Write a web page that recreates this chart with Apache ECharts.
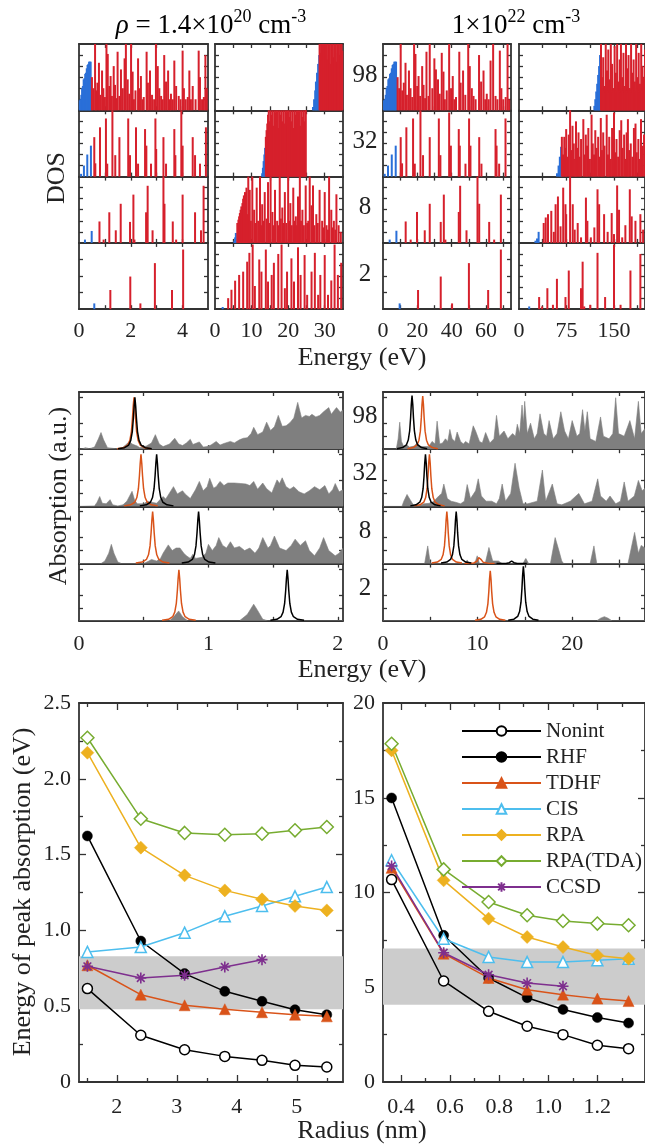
<!DOCTYPE html>
<html>
<head>
<meta charset="utf-8">
<script src="https://cdn.jsdelivr.net/npm/echarts@6.0.0/dist/echarts.min.js"></script>
<style>
html, body { margin: 0; padding: 0; background: #fff; }
#chart { width: 645px; height: 1146px; }
</style>
</head>
<body>
<div id="chart"></div>
<script>
// ---- DOS stems, [energy (eV), degeneracy] ----
// column A / B : rho = 1.4e20, column C / D : 1e22 ; rows 98, 32, 8, 2 electrons
var dosA98Blue = [[0.03,0.9],[0.06,1.0],[0.09,1.4],[0.12,2.0],[0.15,2.2],[0.18,2.8],[0.21,2.9],[0.24,3.3],[0.27,3.4],[0.3,3.8],[0.33,4.1],[0.36,4.2],[0.39,4.4],[0.42,4.4],[0.45,4.4]];
var dosA98Red = [[0.50,3.0],[0.55,2.0],[0.62,6.5],[0.66,1.8],[0.71,2.5],[0.77,4.3],[0.82,1.4],[0.89,3.6],[0.94,2.0],[1.0,1.2],[1.06,6.5],[1.11,5.1],[1.17,2.2],[1.22,3.1],[1.27,1.3],[1.34,4.0],[1.39,2.3],[1.44,1.1],[1.49,5.3],[1.56,1.3],[1.62,3.7],[1.69,2.0],[1.76,4.7],[1.81,6.5],[1.88,2.8],[1.94,1.5],[2.01,6.5],[2.07,3.5],[2.12,1.0],[2.18,1.8],[2.28,4.7],[2.33,2.0],[2.39,3.1],[2.45,1.0],[2.50,1.2],[2.61,5.3],[2.66,2.5],[2.74,3.6],[2.82,1.4],[2.90,1.0],[2.97,6.5],[3.04,4.0],[3.10,2.0],[3.17,1.3],[3.23,1.0],[3.29,5.0],[3.36,2.6],[3.44,3.6],[3.50,1.0],[3.55,1.5],[3.62,1.0],[3.68,4.5],[3.75,2.2],[3.85,1.3],[3.92,1.0],[4.00,5.4],[4.05,2.0],[4.12,1.0],[4.20,1.2],[4.26,3.6],[4.32,1.0],[4.39,2.2],[4.50,1.0],[4.62,5.4],[4.67,3.0],[4.75,1.0],[4.82,1.2],[4.88,5.0],[4.93,2.0]];
var dosA32Blue = [[0.08,0.25],[0.19,1.0],[0.32,2.0],[0.46,2.8]];
var dosA32Red = [[0.59,3.57],[0.63,1.2],[0.81,4.46],[1.04,5.26],[1.09,1.17],[1.29,6.5],[1.40,1.94],[1.56,3.57],[1.90,5.26],[1.97,1.94],[2.20,4.46],[2.28,1.17],[2.55,4.3],[2.60,2.8],[2.78,1.17],[2.95,5.26],[2.98,2.5],[3.26,3.57],[3.36,1.17],[3.68,4.3],[3.72,1.94],[3.95,6.5],[4.00,2.8],[4.39,3.57],[4.48,1.94],[4.67,1.17],[4.90,4.46]];
var dosA8Blue = [[0.23,0.3],[0.49,1.08]];
var dosA8Red = [[0.79,1.94],[0.95,0.3],[1.17,2.77],[1.42,1.14],[1.61,3.54],[1.97,1.9],[2.10,4.37],[2.14,0.3],[2.59,2.77],[2.65,5.17],[2.84,1.14],[3.26,6.5],[3.30,3.54],[3.62,1.94],[3.75,0.3],[4.00,4.37],[4.48,2.77],[4.71,1.14],[4.81,5.17]];
var dosA2Blue = [[0.59,0.35]];
var dosA2Red = [[1.21,1.16],[1.98,1.97],[2.37,0.35],[2.93,2.78],[3.59,1.16],[4.02,3.6]];

var dosB98Blue = [[26.8,0.3],[27.1,1.0],[27.4,1.8],[27.6,2.6],[27.9,3.4],[28.2,4.2],[28.5,5.0]];
var dosB98Red = [[28.6,6.5],[28.8,5.2],[29.0,6.5],[29.2,4.5],[29.4,6.5],[29.6,5.5],[29.8,6.5],[30.0,3.8],[30.2,6.5],[30.4,5.0],[30.6,6.5],[30.8,4.6],[31.0,6.5],[31.2,5.8],[31.4,6.5],[31.6,4.2],[31.8,6.5],[32.0,5.4],[32.2,6.5],[32.4,4.8],[32.6,6.5],[32.8,5.6],[33.0,6.5],[33.2,4.4],[33.4,6.5],[33.6,5.2],[33.8,6.5],[34.0,5.0],[34.2,6.5],[34.4,4.6],[34.6,6.5],[34.8,5.4]];
var dosB32Blue = [[12.9,0.3],[13.1,0.8],[13.3,1.4],[13.5,2.0],[13.7,2.6]];
var dosB32Red = [[13.9,3.6],[14.1,4.2],[14.3,4.8],[14.5,5.6],[14.7,6.5],[14.95,5.0],[15.2,6.5],[15.45,5.6],[15.7,6.5],[15.95,4.6],[16.2,6.5],[16.45,5.8],[16.7,6.5],[16.95,5.0],[17.2,6.5],[17.45,4.4],[17.7,6.5],[17.95,5.6],[18.2,6.5],[18.45,5.0],[18.7,6.5],[18.95,4.8],[19.2,6.5],[19.45,5.8],[19.7,6.5],[19.95,4.6],[20.2,6.5],[20.45,5.4],[20.7,6.5],[20.95,5.0],[21.2,6.5],[21.45,4.4],[21.7,6.5],[21.95,5.6],[22.2,6.5],[22.45,4.8],[22.7,6.5],[22.95,5.2],[23.2,6.5],[23.45,4.6],[23.7,6.5],[23.95,5.4],[24.2,6.5],[24.45,5.0],[24.7,6.5],[24.8,6.5]];
var dosB8Blue = [[5.3,0.2],[5.5,0.5],[5.7,0.9]];
var dosB8Red = [[6.1,1.8],[6.4,2.1],[6.6,2.4],[6.8,2.7],[7.0,3.0],[7.2,3.3],[7.5,3.6],[7.7,4.0],[7.9,4.3],[8.2,4.6],[8.4,3.0],[8.6,5.0],[8.8,2.6],[9.1,6.5],[9.5,4.8],[9.8,2.0],[10.2,6.5],[10.7,3.0],[11.0,1.8],[11.4,5.0],[11.8,2.0],[12.3,6.5],[12.6,1.6],[12.9,3.5],[13.3,2.0],[13.6,4.6],[14.1,2.2],[14.5,5.5],[14.9,1.8],[15.2,6.5],[15.7,2.8],[16.0,1.6],[16.4,4.8],[17.0,2.0],[17.3,1.6],[17.7,6.5],[18.0,2.2],[18.4,3.2],[18.8,1.8],[19.1,4.6],[19.5,1.8],[20.0,6.5],[20.3,2.0],[20.6,3.6],[21.0,1.6],[21.4,5.0],[21.8,2.0],[22.1,2.4],[22.4,1.6],[22.7,4.2],[23.2,6.5],[23.5,2.0],[23.9,3.0],[24.3,1.6],[24.8,5.2],[25.2,1.8],[25.5,2.0],[25.9,6.5],[26.4,3.4],[26.8,5.2],[27.2,1.6],[27.7,2.6],[28.1,1.8],[28.6,4.8],[29.3,2.0],[29.7,1.4],[30.0,4.6],[30.5,1.6],[30.9,1.2],[31.2,6.5],[31.8,3.0],[32.2,1.4],[32.5,2.0],[32.9,1.2],[33.2,4.4],[33.8,1.6],[34.4,1.0]];
var dosB2Blue = [[2.1,0.2]];
var dosB2Red = [[3.6,1.0],[4.5,1.76],[5.5,2.58],[6.6,3.1],[7.7,3.4],[8.8,4.3],[9.4,5.1],[10.3,5.85],[10.9,2.1],[12.1,4.5],[12.7,3.4],[13.9,5.4],[14.5,2.5],[15.5,3.1],[16.1,4.2],[17.3,5.0],[18.2,5.85],[19.1,1.9],[19.7,3.4],[20.9,4.6],[21.6,2.5],[22.7,5.6],[23.4,3.1],[24.5,4.9],[25.2,1.3],[26.4,3.4],[27.3,5.1],[28.2,1.3],[28.8,3.1],[30.0,4.9],[30.9,1.3],[31.8,2.6],[32.7,5.85],[33.6,3.1],[34.5,4.2]];

var dosC98Blue = [[0.6,0.9],[1.1,1.0],[1.6,1.4],[2.1,2.0],[2.6,2.2],[3.1,2.8],[3.6,2.9],[4.1,3.3],[4.6,3.4],[5.1,3.8],[5.6,4.1],[6.1,4.2],[6.6,4.4],[7.1,4.4],[7.6,4.4]];
var dosC98Red = [[8.5,3.0],[9.4,2.0],[10.3,6.5],[11.2,1.8],[12.1,2.5],[13.1,4.3],[13.9,1.4],[15.1,3.6],[16.0,2.0],[17.0,1.2],[18.1,6.5],[18.9,5.1],[19.9,2.2],[20.7,3.1],[21.6,1.3],[22.8,4.0],[23.6,2.3],[24.5,1.1],[25.3,5.3],[26.5,1.3],[27.2,6.5],[28.7,2.0],[29.9,4.7],[30.8,3.7],[32.0,2.8],[33.0,1.5],[34.2,5.2],[35.2,3.5],[36.0,1.0],[37.1,1.8],[38.5,6.5],[39.6,2.0],[40.6,3.1],[41.6,1.0],[42.5,1.2],[44.4,5.3],[45.2,2.5],[46.6,3.6],[47.9,1.4],[49.6,6.5],[50.5,4.0],[51.7,2.0],[52.7,1.3],[53.9,1.0],[55.9,5.0],[57.1,2.6],[58.5,3.6],[59.5,1.0],[60.4,1.5],[61.5,1.0],[62.6,4.5],[64.1,6.5],[65.5,1.3],[66.6,1.0],[68.0,5.4],[68.9,2.0],[70.0,1.0],[71.4,1.2],[72.5,6.5],[73.4,1.0]];
var dosC32Blue = [[1.0,0.25],[2.9,1.0],[5.1,2.0],[7.4,2.8]];
var dosC32Red = [[10.3,3.57],[11.1,1.2],[13.6,4.46],[17.5,5.26],[18.5,1.17],[21.8,6.5],[23.3,1.94],[27.2,3.57],[32.5,5.26],[33.4,1.94],[38.5,5.8],[39.5,2.8],[44.1,4.3],[44.7,2.8],[48.0,1.17],[50.1,5.26],[50.9,2.8],[56.0,3.57],[57.3,1.17],[65.5,4.3],[66.1,2.8],[67.6,1.17],[71.3,5.26]];
var dosC8Blue = [[3.9,0.3],[7.8,1.1]];
var dosC8Red = [[13.2,1.94],[16.1,0.3],[19.8,2.8],[24.3,1.14],[27.2,3.54],[33.6,1.9],[35.4,4.37],[36.3,0.3],[44.1,2.8],[44.9,5.17],[48.6,1.14],[55.0,6.5],[56.0,3.54],[61.8,1.9],[64.7,0.3],[68.6,4.37]];
var dosC2Blue = [[9.7,0.35]];
var dosC2Red = [[20.4,1.16],[33.6,1.97],[40.2,0.35],[50.0,2.78],[61.2,1.16],[68.6,3.6]];

var dosD98Blue = [[119,0.4],[120.5,1.0],[122,1.7],[123.5,2.4],[125,3.2],[126.5,4.0],[128,5.0]];
var dosD98Red = [[129.5,6.5],[131,3.0],[133,4.8],[135,2.2],[137,6.5],[139,3.6],[141,5.5],[143,2.8],[145,6.5],[147,4.2],[149,2.0],[151,5.8],[153,3.4],[155,6.5],[157,2.6],[159,4.6],[161,6.5],[163,3.0],[165,5.2],[167,2.2],[169,6.5],[171,3.8],[173,5.0],[175,2.0],[177,6.5],[179,3.4],[181,4.6],[183,2.6],[185,6.5],[187,3.0],[189,5.2],[191,2.4],[193,6.5],[195,4.0],[197,3.0],[199,5.5],[130,1.6],[132,2.0],[134,1.8],[136,1.6],[138,2.0],[140,1.8],[142,1.6],[144,2.0],[146,1.8],[148,1.6],[150,2.0],[152,1.8],[154,1.6],[156,2.0],[158,1.8],[160,1.6],[162,2.0],[164,1.8],[166,1.6],[168,2.0],[170,1.8],[172,1.6],[174,2.0],[176,1.8],[178,1.6],[180,2.0],[182,1.8],[184,1.6],[186,2.0],[188,1.8],[190,1.6],[192,2.0],[194,1.8],[196,1.6],[198,2.0]];
var dosD32Blue = [[60,0.3],[62.5,1.0],[64.5,1.8],[66.5,2.7]];
var dosD32Red = [[67.7,3.6],[69.5,2.0],[71.5,3.6],[73.5,2.6],[74.5,4.3],[76.5,1.8],[78.5,3.8],[80.7,6.5],[82.5,2.4],[84.5,4.6],[86.5,3.0],[88.5,1.6],[90,5.0],[92,2.6],[94,4.0],[96,1.8],[98,3.4],[101.6,5.2],[103.5,2.0],[105.5,3.8],[107.5,2.8],[109.5,4.4],[112,1.6],[114.6,5.6],[116.5,3.0],[118.5,2.0],[120.5,4.2],[122.5,2.6],[125,3.6],[127,1.8],[129.2,5.3],[131,2.4],[133,4.0],[135,2.8],[138.5,5.6],[140.5,2.0],[142.5,3.6],[145,1.6],[147,4.4],[150,5.8],[152,2.2],[154,3.4],[156.5,1.8],[159,4.2],[161.5,5.1],[163.5,2.6],[166,3.8],[168,1.6],[170,4.0],[172,5.2],[174,2.4],[176.5,3.0],[179,1.8],[181.5,4.4],[184,4.8],[186,2.2],[188.5,3.4],[190.5,1.6],[192.7,5.2],[195,2.8],[197.5,3.8]];
var dosD8Blue = [[26,0.2],[28.5,0.4],[31,1.0]];
var dosD8Red = [[39,1.8],[42.2,2.3],[45.8,2.6],[51,2.9],[55,1.0],[57.8,3.5],[61.5,4.2],[65.6,1.5],[69.8,5.0],[73.4,3.5],[74.5,2.6],[80.7,6.5],[84.9,3.5],[88,1.2],[92.7,1.8],[98,0.5],[105.7,4.1],[108,2.0],[113.5,0.5],[119,1.4],[124,4.85],[126.6,3.5],[134.4,2.6],[140,1.0],[146.4,2.7],[150,0.8],[155,5.2],[158,3.0],[163,0.5],[168,1.6],[175,4.85],[178,2.4],[183.9,2.0],[191.7,2.6],[196,1.2]];
var dosD2Blue = [[16.1,0.25]];
var dosD2Red = [[31.8,1.1],[36.5,0.25],[44.8,1.9],[53.6,0.4],[59.9,2.75],[73.4,1.1],[78.6,3.5],[97.9,1.9],[100.5,4.3],[103,0.25],[112.5,0.4],[124,5.1],[136,1.1],[150,5.85],[160.4,0.4],[176,3.5],[191.7,5.0]];

// ---- Absorption spectra (gray), [energy (eV), intensity] ----
var absL98 = [[0,0],[0.03,0.01],[0.05,0.03],[0.08,0.01],[0.12,0.04],[0.15,0.2],[0.17,0.32],[0.19,0.18],[0.22,0.03],[0.28,0.01],[0.33,0.02],[0.36,0.08],[0.39,0.15],[0.41,0.1],[0.45,0.06],[0.47,0.03],[0.52,0.06],[0.56,0.12],[0.59,0.28],[0.62,0.1],[0.65,0.05],[0.7,0.1],[0.74,0.21],[0.77,0.1],[0.8,0.07],[0.83,0.12],[0.86,0.19],[0.88,0.09],[0.91,0.12],[0.93,0.14],[0.96,0.04],[0.99,0.05],[1.02,0.08],[1.06,0.15],[1.09,0.08],[1.12,0.11],[1.17,0.15],[1.2,0.12],[1.24,0.18],[1.27,0.21],[1.3,0.22],[1.33,0.3],[1.35,0.42],[1.38,0.28],[1.42,0.33],[1.45,0.52],[1.48,0.36],[1.51,0.43],[1.54,0.65],[1.57,0.44],[1.6,0.45],[1.63,0.51],[1.66,0.6],[1.69,0.9],[1.72,0.6],[1.75,0.65],[1.78,0.63],[1.8,0.67],[1.83,0.62],[1.86,0.65],[1.89,0.72],[1.93,0.8],[1.95,0.67],[1.97,0.74],[1.99,0.8],[2.02,0.71],[2.04,0.76]];
var absL32 = [[0,0],[0.12,0.01],[0.14,0.08],[0.16,0.19],[0.18,0.06],[0.21,0.05],[0.24,0.13],[0.26,0.03],[0.3,0.01],[0.34,0.03],[0.37,0.1],[0.41,0.29],[0.43,0.12],[0.45,0.05],[0.5,0.05],[0.53,0.1],[0.56,0.08],[0.6,0.06],[0.63,0.14],[0.65,0.19],[0.67,0.14],[0.7,0.26],[0.73,0.38],[0.76,0.24],[0.8,0.3],[0.82,0.24],[0.86,0.15],[0.9,0.32],[0.93,0.48],[0.96,0.3],[0.99,0.38],[1.01,0.54],[1.04,0.35],[1.06,0.38],[1.09,0.48],[1.12,0.4],[1.15,0.45],[1.2,0.45],[1.25,0.44],[1.29,0.43],[1.32,0.4],[1.35,0.48],[1.38,0.33],[1.42,0.45],[1.45,0.34],[1.49,0.26],[1.53,0.51],[1.55,0.44],[1.57,0.55],[1.6,0.38],[1.63,0.33],[1.66,0.38],[1.7,0.28],[1.74,0.24],[1.78,0.3],[1.82,0.38],[1.86,0.32],[1.9,0.4],[1.93,0.24],[1.96,0.32],[1.98,0.44],[2.01,0.28],[2.04,0.32]];
var absL8 = [[0,0],[0.17,0],[0.2,0.05],[0.23,0.2],[0.25,0.37],[0.27,0.2],[0.3,0.03],[0.33,0],[0.5,0],[0.54,0.05],[0.56,0.08],[0.6,0.05],[0.63,0.1],[0.65,0.2],[0.69,0.36],[0.72,0.25],[0.75,0.3],[0.78,0.3],[0.81,0.2],[0.83,0.15],[0.86,0.1],[0.88,0.18],[0.9,0.1],[0.95,0.12],[0.98,0.2],[1.0,0.37],[1.03,0.25],[1.06,0.35],[1.08,0.5],[1.11,0.35],[1.14,0.3],[1.17,0.42],[1.2,0.3],[1.24,0.33],[1.28,0.25],[1.32,0.3],[1.36,0.2],[1.39,0.3],[1.42,0.5],[1.46,0.3],[1.48,0.35],[1.51,0.53],[1.55,0.3],[1.6,0.25],[1.64,0.35],[1.67,0.47],[1.71,0.35],[1.75,0.44],[1.78,0.25],[1.82,0.15],[1.86,0.3],[1.89,0.5],[1.93,0.25],[1.98,0.15],[2.01,0.2],[2.04,0.3]];
var absL2 = [[0,0],[0.7,0],[0.74,0.1],[0.77,0.19],[0.8,0.08],[0.84,0],[1.24,0],[1.3,0.12],[1.35,0.32],[1.38,0.2],[1.42,0.03],[1.46,0],[2.04,0]];
var absR98 = [[0,0],[1.4,0],[1.6,0.2],[1.77,0.52],[1.95,0.15],[2.19,0.05],[2.54,0.08],[2.8,0.04],[3.3,0.06],[3.6,0.12],[4.0,0.05],[4.84,0.05],[5.19,0.15],[5.5,0.1],[5.72,0.54],[6.0,0.1],[6.3,0.12],[6.6,0.2],[6.85,0.15],[7.07,0.38],[7.3,0.2],[7.6,0.15],[7.84,0.33],[8.2,0.15],[8.5,0.1],[8.73,0.15],[9.1,0.1],[9.54,0.45],[9.79,0.35],[10.2,0.15],[10.5,0.12],[10.85,0.32],[11.3,0.12],[11.73,0.2],[12.0,0.65],[12.3,0.25],[12.8,0.35],[13.2,0.2],[13.7,0.3],[14.0,0.25],[14.2,0.48],[14.45,0.3],[14.7,0.85],[14.85,0.5],[14.98,0.92],[15.25,0.3],[15.6,0.5],[16.0,0.2],[16.3,0.3],[16.6,0.68],[17.0,0.3],[17.3,0.25],[17.56,0.55],[18.0,0.2],[18.4,0.3],[18.8,0.72],[19.2,0.35],[19.6,0.2],[20.0,0.55],[20.5,0.25],[20.8,0.3],[21.1,0.76],[21.35,0.35],[21.6,0.72],[21.9,0.2],[22.5,0.15],[23.0,0.62],[23.3,0.25],[23.9,0.2],[24.3,0.3],[24.6,0.99],[24.9,0.3],[25.5,0.25],[26.1,0.55],[26.6,0.2],[27.0,0.92],[27.3,0.3],[27.7,0.4]];
var absR32 = [[0,0],[2.0,0],[2.2,0.1],[2.54,0.23],[2.9,0.12],[3.2,0.03],[3.9,0.02],[4.3,0.05],[5.0,0.06],[5.37,0.1],[5.9,0.2],[6.2,0.25],[6.43,0.43],[6.8,0.15],[7.2,0.1],[7.67,0.08],[8.2,0.05],[8.6,0.1],[8.9,0.42],[9.25,0.15],[9.79,0.3],[10.07,0.53],[10.4,0.2],[10.9,0.1],[11.5,0.1],[12.0,0.05],[12.3,0.15],[12.6,0.43],[12.95,0.1],[13.5,0.25],[13.96,0.83],[14.4,0.35],[14.8,0.05],[15.3,0.05],[16.3,0.1],[16.85,0.7],[17.2,0.1],[17.9,0.43],[18.4,0.05],[18.9,0.03],[19.8,0.1],[20.4,0.2],[20.7,0.25],[21.3,0.05],[22.1,0.1],[22.7,0.53],[23.0,0.2],[23.6,0.1],[24.0,0.2],[24.6,0.05],[25.1,0.1],[25.5,0.47],[25.9,0.1],[26.57,0.2],[27.0,0.5],[27.4,0.3],[27.7,0.35]];
var absR8 = [[0,0],[4.4,0],[4.73,0.34],[5.0,0],[8.7,0],[8.9,0.07],[9.1,0],[9.7,0],[9.96,0.15],[10.2,0],[10.8,0],[11.2,0.31],[11.6,0.05],[12.2,0.05],[12.6,0],[14.8,0],[15.1,0.1],[15.4,0],[17.7,0],[18.2,0.5],[18.6,0.25],[18.9,0.05],[19.1,0],[21.9,0],[22.3,0.34],[22.6,0],[25.9,0],[26.6,0.6],[27.0,0.2],[27.3,0.35],[27.7,0.3]];
var absR2 = [[0,0],[22.6,0],[23.0,0.05],[23.4,0.08],[23.8,0.05],[24.2,0],[27.7,0]];

// peak line shape (offset from centre in eV, relative height)
var peakOffsetL = [-0.13,-0.08,-0.048,-0.032,-0.02,-0.012,-0.006,0,0.006,0.012,0.02,0.032,0.048,0.08,0.13];
var peakOffsetR = [-1.6,-1.0,-0.6,-0.4,-0.25,-0.15,-0.08,0,0.08,0.15,0.25,0.4,0.6,1.0,1.6];
var peakShape = [0.01,0.03,0.08,0.17,0.34,0.59,0.83,1,0.83,0.59,0.34,0.17,0.08,0.03,0.01];
// rows 98, 32, 8, 2
var orangeCenterL = [0.425, 0.479, 0.569, 0.772];
var orangeHeightL = [1.0, 1.0, 1.0, 0.98];
var blackCenterL = [0.432, 0.600, 0.924, 1.609];
var blackHeightL = [1.0, 1.0, 1.0, 0.98];
var orangeCenterR = [4.20, 4.91, 6.75, 11.34];
var orangeHeightR = [1.02, 1.0, 1.0, 0.96];
var blackCenterR = [3.07, 4.49, 7.74, 14.84];
var blackHeightR = [1.03, 1.0, 1.0, 1.05];
var smallOrangeR = [[], [], [[10.2, 0.14]], []];
var smallBlackR = [[], [], [[13.6, 0.05]], []];

// ---- Peak absorption energy vs radius ----
var methodNames = ['Nonint', 'RHF', 'TDHF', 'CIS', 'RPA', 'RPA(TDA)', 'CCSD'];
var radiusL = [1.51, 2.40, 3.13, 3.80, 4.42, 4.97, 5.50];
var energyL = [
  [0.616, 0.308, 0.213, 0.169, 0.143, 0.110, 0.099],
  [1.623, 0.930, 0.715, 0.598, 0.532, 0.477, 0.444],
  [0.770, 0.576, 0.506, 0.480, 0.460, 0.444, 0.433],
  [0.858, 0.890, 0.985, 1.093, 1.161, 1.225, 1.286],
  [2.172, 1.546, 1.363, 1.264, 1.205, 1.161, 1.132],
  [2.271, 1.737, 1.643, 1.631, 1.638, 1.660, 1.682],
  [0.763, 0.686, 0.704, 0.759, 0.807]
];
var bandL = [0.48, 0.83];
var radiusR = [0.362, 0.574, 0.757, 0.914, 1.060, 1.200, 1.327];
var energyR = [
  [10.68, 5.33, 3.73, 2.94, 2.50, 1.94, 1.76],
  [14.99, 7.74, 5.49, 4.45, 3.83, 3.40, 3.11],
  [11.3, 6.77, 5.49, 4.87, 4.61, 4.40, 4.27],
  [11.7, 7.56, 6.60, 6.33, 6.33, 6.42, 6.51],
  [17.5, 10.64, 8.62, 7.65, 7.12, 6.68, 6.51],
  [17.85, 11.22, 9.50, 8.80, 8.50, 8.36, 8.27],
  [11.4, 6.82, 5.66, 5.22, 5.05]
];
var bandR = [4.08, 7.04];

var rowNames = ['98', '32', '8', '2'];

(function () {
  var SERIF = '"Liberation Serif", "Times New Roman", serif';
  var INK = '#222';
  var FRAME = '#333';
  var RED = '#d6202c';
  var BLUE = '#2a6fd8';
  var GRAY = '#7f7f7f';
  var ORANGE = '#d95319';
  var ASTERISK = 'path://M5 0L5 10M0 5L10 5M1.5 1.5L8.5 8.5M8.5 1.5L1.5 8.5';
  var methodStyle = [
    {color: '#000000', symbol: 'circle', open: true, size: 10},
    {color: '#000000', symbol: 'circle', open: false, size: 10},
    {color: '#d95319', symbol: 'triangle', open: false, size: 11},
    {color: '#4dbeee', symbol: 'triangle', open: true, size: 11},
    {color: '#edb120', symbol: 'diamond', open: false, size: 13},
    {color: '#77ac30', symbol: 'diamond', open: true, size: 13},
    {color: '#7e2f8e', symbol: ASTERISK, open: false, size: 11}
  ];

  var grids = [], xAxes = [], yAxes = [], series = [], graphics = [];

  function mkAxis(g, pos, range, ticks, len, labels, fmt, margin, line) {
    var a = {
      type: 'value', gridIndex: g, position: pos, min: range[0], max: range[1],
      axisLine: {show: line !== false, onZero: false, lineStyle: {color: FRAME, width: 1.8}},
      axisTick: {show: ticks.length > 0, inside: true, length: len, customValues: ticks,
        lineStyle: {color: FRAME, width: 1.3}},
      splitLine: {show: false},
      axisLabel: {show: false}
    };
    if (labels) {
      a.axisLabel = {show: true, customValues: labels, formatter: fmt, margin: margin,
        fontFamily: SERIF, fontSize: 22, color: INK, showMinLabel: true, showMaxLabel: true};
    }
    return a;
  }

  function addPanel(box, xr, yr, s) {
    var g = grids.length;
    grids.push({left: box[0], top: box[1], width: box[2], height: box[3]});
    var ax = {x: xAxes.length, y: yAxes.length};
    xAxes.push(mkAxis(g, 'bottom', xr, s.xt, s.len, s.xl, s.xf, s.xm));
    xAxes.push(mkAxis(g, 'top', xr, s.xt, s.len));
    yAxes.push(mkAxis(g, 'left', yr, s.yt, s.len, s.yl, s.yf, s.ym));
    yAxes.push(mkAxis(g, 'right', yr, s.yt, s.len));
    if (s.xtm) {
      xAxes.push(mkAxis(g, 'bottom', xr, s.xtm, s.lenm, null, null, 0, false));
      xAxes.push(mkAxis(g, 'top', xr, s.xtm, s.lenm, null, null, 0, false));
    }
    if (s.ytm) {
      yAxes.push(mkAxis(g, 'left', yr, s.ytm, s.lenm, null, null, 0, false));
      yAxes.push(mkAxis(g, 'right', yr, s.ytm, s.lenm, null, null, 0, false));
    }
    return ax;
  }

  function intLabel(v) { return String(v); }

  function label(str, x, y, size, vertical) {
    return {type: 'text', x: x, y: y, rotation: vertical ? Math.PI / 2 : 0, silent: true,
      style: {text: str, fontFamily: SERIF, fontSize: size, fill: INK,
        textAlign: 'center', textVerticalAlign: 'middle'}};
  }

  // ---- DOS block ----
  var dosCols = [
    {x: 79, w: 129, max: 4.98, ticks: [1, 2, 3, 4], labels: [0, 2, 4]},
    {x: 215, w: 128, max: 35, ticks: [5, 10, 15, 20, 25, 30], labels: [0, 10, 20, 30]},
    {x: 383, w: 128, max: 74.5, ticks: [10, 20, 30, 40, 50, 60, 70], labels: [0, 20, 40, 60]},
    {x: 519, w: 128, max: 199, ticks: [37.5, 75, 112.5, 150, 187.5], labels: [0, 75, 150]}
  ];
  var dosTop = 44, dosRowH = 66.3;
  var dosPanels = [
    [[dosA98Blue, dosA98Red], [dosB98Blue, dosB98Red], [dosC98Blue, dosC98Red], [dosD98Blue, dosD98Red]],
    [[dosA32Blue, dosA32Red], [dosB32Blue, dosB32Red], [dosC32Blue, dosC32Red], [dosD32Blue, dosD32Red]],
    [[dosA8Blue, dosA8Red], [dosB8Blue, dosB8Red], [dosC8Blue, dosC8Red], [dosD8Blue, dosD8Red]],
    [[dosA2Blue, dosA2Red], [dosB2Blue, dosB2Red], [dosC2Blue, dosC2Red], [dosD2Blue, dosD2Red]]
  ];
  dosPanels.forEach(function (row, r) {
    row.forEach(function (pair, c) {
      var col = dosCols[c];
      var ymax = (r === 3 && (c === 0 || c === 2)) ? 4 : 6;
      var yt = ymax === 4 ? [1, 2, 3] : [1, 2, 3, 4, 5];
      var ax = addPanel([col.x, dosTop + r * dosRowH, col.w, dosRowH], [0, col.max], [0, ymax], {
        xt: col.ticks, xl: r === 3 ? col.labels : null, xf: intLabel, xm: 11,
        yt: yt, len: 4
      });
      var data = [];
      pair[0].forEach(function (p) { data.push({value: p, itemStyle: {color: BLUE}}); });
      pair[1].forEach(function (p) { data.push({value: p, itemStyle: {color: RED}}); });
      series.push({type: 'bar', xAxisIndex: ax.x, yAxisIndex: ax.y, data: data,
        barWidth: 2, clip: true, silent: true});
    });
  });
  graphics.push(label('DOS', 57, 178, 26, true));
  graphics.push(label('Energy (eV)', 362, 358, 26));
  rowNames.forEach(function (n, r) {
    graphics.push(label(n, 365, dosTop + r * dosRowH + dosRowH / 2 - 2, 25));
  });

  // ---- Absorption block ----
  var absTop = 392, absRowH = 57.2;
  var absL = [absL98, absL32, absL8, absL2];
  var absR = [absR98, absR32, absR8, absR2];
  function peak(center, height, offs) {
    return offs.map(function (o, i) { return [center + o, height * peakShape[i]]; });
  }
  function lineSeries(ax, data, color, width) {
    return {type: 'line', xAxisIndex: ax.x, yAxisIndex: ax.y, data: data, symbol: 'none',
      lineStyle: {color: color, width: width}, silent: true, clip: true};
  }
  for (var r = 0; r < 4; r++) {
    var rowTop = absTop + r * absRowH;
    var axL = addPanel([79, rowTop, 264, absRowH], [0, 2.04], [0, 1.1], {
      xt: [0.5, 1, 1.5, 2], xl: r === 3 ? [0, 1, 2] : null, xf: intLabel, xm: 12,
      yt: [0.25, 0.5, 1.0], len: 4
    });
    var axR = addPanel([383, rowTop, 264, absRowH], [0, 27.7], [0, 1.1], {
      xt: [5, 10, 15, 20, 25], xl: r === 3 ? [0, 10, 20] : null, xf: intLabel, xm: 12,
      yt: [0.25, 0.5, 1.0], len: 4
    });
    [[axL, absL[r]], [axR, absR[r]]].forEach(function (p) {
      var s = lineSeries(p[0], p[1], GRAY, 0.6);
      s.areaStyle = {color: GRAY, opacity: 1};
      series.push(s);
    });
    series.push(lineSeries(axL, peak(orangeCenterL[r], orangeHeightL[r], peakOffsetL), ORANGE, 1.5));
    series.push(lineSeries(axL, peak(blackCenterL[r], blackHeightL[r], peakOffsetL), '#000', 1.5));
    series.push(lineSeries(axR, peak(orangeCenterR[r], orangeHeightR[r], peakOffsetR), ORANGE, 1.5));
    smallOrangeR[r].forEach(function (p) { series.push(lineSeries(axR, peak(p[0], p[1], peakOffsetR), ORANGE, 1.5)); });
    series.push(lineSeries(axR, peak(blackCenterR[r], blackHeightR[r], peakOffsetR), '#000', 1.5));
    smallBlackR[r].forEach(function (p) { series.push(lineSeries(axR, peak(p[0], p[1], peakOffsetR), '#000', 1.5)); });
    graphics.push(label(rowNames[r], 365, rowTop + absRowH / 2 - 4, 25));
  }
  graphics.push(label('Absorption (a.u.)', 59, 496, 26, true));
  graphics.push(label('Energy (eV)', 362, 670, 26));

  // ---- Peak energy vs radius ----
  var axBL = addPanel([79, 703, 264, 379], [1.37, 5.77], [0, 2.5], {
    xt: [2, 3, 4, 5], xtm: [1.5, 2.5, 3.5, 4.5, 5.5], xl: [2, 3, 4, 5], xf: intLabel, xm: 14,
    yt: [0.5, 1, 1.5, 2], ytm: [0.25, 0.75, 1.25, 1.75, 2.25], yl: [0, 0.5, 1, 1.5, 2, 2.5],
    yf: function (v) { return v === 0 ? '0' : v.toFixed(1); }, ym: 8, len: 7, lenm: 4
  });
  var axBR = addPanel([383, 703, 264, 379], [0.327, 1.394], [0, 20], {
    xt: [0.4, 0.6, 0.8, 1.0, 1.2], xtm: [0.5, 0.7, 0.9, 1.1, 1.3], xl: [0.4, 0.6, 0.8, 1.0, 1.2],
    xf: function (v) { return v.toFixed(1); }, xm: 14,
    yt: [5, 10, 15], ytm: [2.5, 7.5, 12.5, 17.5], yl: [0, 5, 10, 15, 20], yf: intLabel, ym: 8,
    len: 7, lenm: 4
  });
  function addCurves(ax, radius, energy, band) {
    series.push({type: 'line', xAxisIndex: ax.x, yAxisIndex: ax.y, data: [], z: 1, silent: true,
      markArea: {silent: true, itemStyle: {color: '#cccccc', opacity: 1},
        data: [[{yAxis: band[0]}, {yAxis: band[1]}]]}});
    energy.forEach(function (vals, m) {
      var st = methodStyle[m];
      series.push({
        type: 'line', name: methodNames[m], xAxisIndex: ax.x, yAxisIndex: ax.y, z: 3,
        data: vals.map(function (v, i) { return [radius[i], v]; }),
        symbol: st.symbol, symbolSize: st.size, showAllSymbol: true,
        lineStyle: {color: st.color, width: 1.5},
        itemStyle: {color: st.open ? '#ffffff' : st.color, borderColor: st.color,
          borderWidth: st.symbol === ASTERISK ? 1.6 : (st.open ? 1.5 : 0.5)},
        emphasis: {disabled: true}
      });
    });
  }
  addCurves(axBL, radiusL, energyL, bandL);
  addCurves(axBR, radiusR, energyR, bandR);
  graphics.push(label('Energy of peak absorption (eV)', 23, 892, 26, true));
  graphics.push(label('Radius (nm)', 362, 1131, 26));

  // ---- titles ----
  var richTitle = {
    b: {fontFamily: SERIF, fontSize: 27, color: INK, verticalAlign: 'bottom', lineHeight: 31},
    i: {fontFamily: SERIF, fontSize: 27, fontStyle: 'italic', color: INK, verticalAlign: 'bottom', lineHeight: 31},
    s: {fontFamily: SERIF, fontSize: 18, color: INK, verticalAlign: 'top', lineHeight: 18}
  };
  graphics.push({type: 'text', x: 211, y: 24, silent: true, style: {
    text: '{i|ρ}{b| = 1.4×10}{s|20}{b| cm}{s|-3}', rich: richTitle,
    textAlign: 'center', textVerticalAlign: 'middle'}});
  graphics.push({type: 'text', x: 516, y: 24, silent: true, style: {
    text: '{b|1×10}{s|22}{b| cm}{s|-3}', rich: richTitle,
    textAlign: 'center', textVerticalAlign: 'middle'}});

  var chart = echarts.init(document.getElementById('chart'));
  chart.setOption({
    animation: false,
    backgroundColor: '#ffffff',
    textStyle: {fontFamily: SERIF},
    grid: grids,
    xAxis: xAxes,
    yAxis: yAxes,
    legend: {
      show: true, orient: 'vertical', left: 456, top: 715, itemWidth: 79, itemHeight: 12,
      itemGap: 4, selectedMode: false, data: methodNames,
      textStyle: {fontFamily: SERIF, fontSize: 21, color: INK, lineHeight: 22}
    },
    series: series,
    graphic: graphics
  });
})();
</script>
</body>
</html>
